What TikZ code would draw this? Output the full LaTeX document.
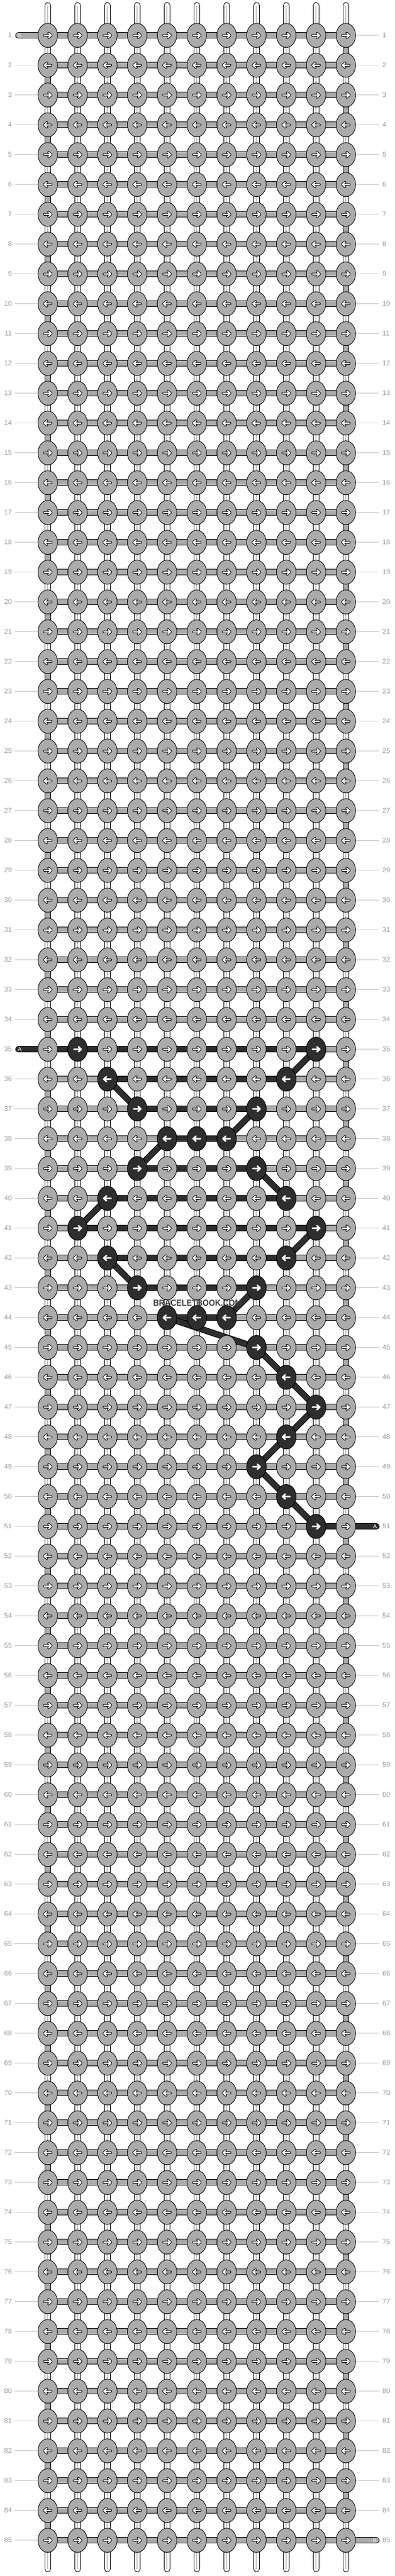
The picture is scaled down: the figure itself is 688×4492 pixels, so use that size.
\documentclass[tikz,border=0pt]{standalone}
\usepackage{fontspec}
\setmainfont{Liberation Sans}
\usetikzlibrary{shapes.geometric}
\definecolor{kg}{HTML}{ABABAB}
\definecolor{kd}{HTML}{2E2E2E}
\definecolor{labc}{HTML}{999999}
\definecolor{labl}{HTML}{C4C4C4}
\definecolor{strc}{HTML}{C6C6C6}
\definecolor{wmc}{HTML}{3E3E3E}
\tikzset{
  knotg/.style={ellipse, draw=black, line width=0.9, fill=kg, minimum width=34, minimum height=42, inner sep=0},
  knotd/.style={knotg, fill=kd},
  bandout/.style={line width=11, draw=black},
  bandg/.style={line width=9, draw=kg},
  bandd/.style={line width=9, draw=kd},
  rowlab/.style={font=\fontsize{12}{12}\selectfont, text=labc, inner sep=0},
  labline/.style={draw=labl, line width=1},
  tailtxt/.style={font=\fontsize{10}{10}\selectfont, inner sep=0},
  arrout/.style={line width=4.3, draw=black, line cap=round, line join=round},
  arrin/.style={line width=2.3, draw=white, line cap=round, line join=round},
  arrdark/.style={line width=2.8, draw=white, line cap=round, line join=round},
  pics/hollowarr/.style={code={
     \draw[arrout] (-6,0) -- (6,0) (1.6,-4) -- (6,0) -- (1.6,4);
     \draw[arrin] (-6,0) -- (6,0) (1.6,-4) -- (6,0) -- (1.6,4);}},
  pics/solidarr/.style={code={
     \draw[arrdark] (-6.3,0) -- (6.3,0) (1.6,-4.3) -- (6.3,0) -- (1.6,4.3);}},
}
\begin{document}
\begin{tikzpicture}[x=1pt,y=-1pt]
\useasboundingbox (0,0) rectangle (688,4492);
\fill[white] (0,0) rectangle (688,4492);
% grid coordinates
\foreach \r in {1,...,85}{
  \foreach \c in {1,...,11}{
    \coordinate (p-\r-\c) at ({83.3+52*(\c-1)},{61.7+52*(\r-1)});
  }
  \coordinate (le-\r) at (26,{61.7+52*(\r-1)});
  \coordinate (re-\r) at (661.3,{61.7+52*(\r-1)});
}
% vertical base strings
\foreach \c in {1,...,11}{
  \coordinate (top-\c) at ({83.3+52*(\c-1)},9.5);
  \coordinate (bot-\c) at ({83.3+52*(\c-1)},4479.5);
  \draw[black, line width=11, line cap=round] (top-\c) -- (bot-\c);
  \draw[white, line width=9, line cap=round] (top-\c) -- (bot-\c);
  \draw[strc, line width=1.8] (top-\c) -- (bot-\c);
}
% edge wraps of the knotting string
\foreach \r in {1,3,...,83}{
  \pgfmathtruncatemacro\n{\r+1}
  \draw[bandout] (p-\r-11) -- (p-\n-11);
  \draw[bandg] (p-\r-11) -- (p-\n-11);
}
\foreach \r in {2,4,...,84}{
  \pgfmathtruncatemacro\n{\r+1}
  \draw[bandout] (p-\r-1) -- (p-\n-1);
  \draw[bandg] (p-\r-1) -- (p-\n-1);
}
% horizontal bands
\foreach \r in {1,...,85}{
  \draw[bandout] (p-\r-1) -- (p-\r-11);
  \draw[bandg] (p-\r-1) -- (p-\r-11);
}
% row label lines
\foreach \r in {1,...,85}{
  \ifnum\r=1 \else\ifnum\r=35 \else
    \draw[labline] (le-\r) -- (p-\r-1);
  \fi\fi
  \ifnum\r=51 \else\ifnum\r=85 \else
    \draw[labline] (p-\r-11) -- (re-\r);
  \fi\fi
}
% tails
\coordinate (tB1) at (32.2,61.7);
\coordinate (tB2) at (656.5,4429.7);
\coordinate (tA1) at (32.2,1829.7);
\coordinate (tA2) at (656.5,2661.7);
\draw[bandout, line cap=round] (tB1) -- (p-1-1);
\draw[bandg, line cap=round] (tB1) -- (p-1-1);
\draw[bandout, line cap=round] (p-85-11) -- (tB2);
\draw[bandg, line cap=round] (p-85-11) -- (tB2);
\draw[bandout, line cap=round] (tA1) -- (p-35-1);
\draw[bandd, line cap=round] (tA1) -- (p-35-1);
\draw[bandout, line cap=round] (p-51-11) -- (tA2);
\draw[bandd, line cap=round] (p-51-11) -- (tA2);
\node[tailtxt, text=white!90!black] (lB1) at (34.3,61.7) {B};
\node[tailtxt, text=white!90!black] (lB2) at (653.8,4429.7) {B};
\node[tailtxt, text=white] (lA1) at (34.5,1829.7) {A};
\node[tailtxt, text=white] (lA2) at (654.3,2661.7) {A};
% dark horizontal segments
\foreach \r/\a/\b in {35/1/10,36/3/9,37/4/8,38/5/7,39/4/8,40/3/9,41/2/10,42/3/9,43/4/8,44/5/7,51/10/11}{
  \draw[bandout] (p-\r-\a) -- (p-\r-\b);
  \draw[bandd] (p-\r-\a) -- (p-\r-\b);
}
% dark diagonals
\foreach \ra/\ca/\rb/\cb in {35/10/36/9,36/3/37/4,37/8/38/7,38/5/39/4,39/8/40/9,40/3/41/2,41/10/42/9,42/3/43/4,43/8/44/7,44/5/45/8,45/8/46/9,46/9/47/10,47/10/48/9,48/9/49/8,49/8/50/9,50/9/51/10}{
  \draw[bandout] (p-\ra-\ca) -- (p-\rb-\cb);
  \draw[bandd] (p-\ra-\ca) -- (p-\rb-\cb);
}
% knots
\foreach \r in {1,...,85}{
  \pgfmathtruncatemacro\s{1-2*mod(\r+1,2)}
  \foreach \c in {1,...,11}{
    \node[knotg] (k-\r-\c) at (p-\r-\c) {};
    \pic[xscale=\s] at (p-\r-\c) {hollowarr};
  }
}
\foreach \r/\c in {35/2,35/10,36/3,36/9,37/4,37/8,38/5,38/6,38/7,39/4,39/8,40/3,40/9,41/2,41/10,42/3,42/9,43/4,43/8,44/5,44/6,44/7,45/8,46/9,47/10,48/9,49/8,50/9,51/10}{
  \pgfmathtruncatemacro\s{1-2*mod(\r+1,2)}
  \node[knotd] (d-\r-\c) at (p-\r-\c) {};
  \pic[xscale=\s] at (p-\r-\c) {solidarr};
}
% row numbers
\foreach \r in {1,...,85}{
  \node[rowlab, anchor=east] (ll-\r) at (21,{61.7+52*(\r-1)}) {\r};
  \node[rowlab, anchor=west] (lr-\r) at (667,{61.7+52*(\r-1)}) {\r};
}
% watermark
\node[font=\bfseries\fontsize{15.5}{15.5}\selectfont, text=wmc, inner sep=0, xscale=0.9] (wm) at (344.5,2271.7) {BRACELETBOOK.COM};
\end{tikzpicture}
\end{document}
